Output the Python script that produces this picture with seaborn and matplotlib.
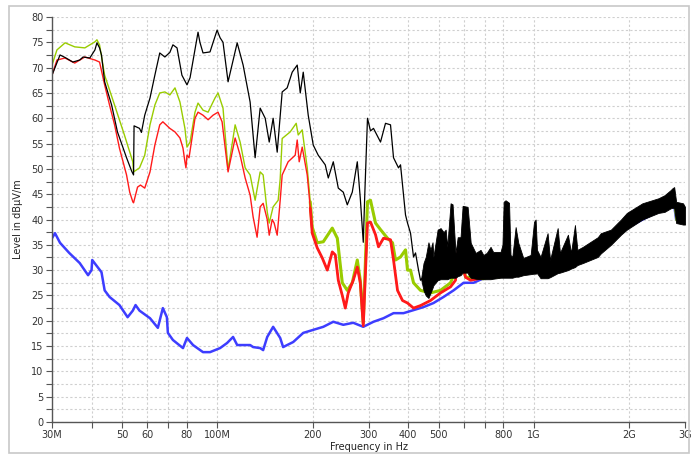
import numpy as np
import seaborn as sns
import matplotlib.pyplot as plt
from matplotlib.patches import Rectangle
from matplotlib.ticker import FixedLocator, MultipleLocator, NullLocator

# peak trace (black), below ~450 MHz
black_f = [30.0, 31.8, 33.0, 34.9, 36.7, 37.6, 39.5, 41.0, 41.6, 42.4, 43.0, 44.0, 46.3, 48.3,
           51.6, 53.6, 54.3, 54.5, 56.7, 57.5, 58.9, 61.2, 63.4, 65.7, 68.2, 70.7, 72.3, 74.5,
           77.2, 80.1, 81.9, 86.8, 88.0, 90.0, 94.7, 99.7, 101.9, 104.1, 108.0, 115.4, 120.5,
           126.8, 131.5, 136.4, 141.5, 145.7, 149.9, 154.4, 160.1, 166.0, 172.2, 178.6, 182.6,
           186.6, 193.5, 200.7, 208.1, 219.0, 223.9, 232.2, 240.8, 249.7, 257.1, 266.6, 276.5,
           282.6, 288.8, 292.0, 297.8, 304.4, 311.1, 327.4, 339.5, 352.1, 359.9, 373.2, 378.7,
           392.7, 398.5, 407.3, 416.3, 422.4, 431.7, 438.0, 442.0]
black_db = [68.5, 72.5, 72.0, 71.1, 71.5, 72.1, 71.9, 73.5, 74.9, 73.9, 72.5, 67.2, 62.6, 57.3,
            52.2, 49.5, 48.8, 58.5, 58.0, 57.2, 60.6, 64.0, 68.5, 72.9, 72.1, 73.0, 74.5, 73.9,
            68.5, 66.6, 68.0, 77.0, 75.0, 72.9, 73.1, 77.4, 75.9, 75.0, 67.2, 74.9, 70.5,
            63.2, 52.2, 62.0, 60.0, 55.3, 60.0, 53.3, 65.2, 66.0, 69.1, 70.5, 65.0,
            69.1, 60.6, 54.7, 52.7, 50.8, 48.2, 51.4, 46.2, 45.4, 42.9, 45.4, 51.4,
            44.2, 35.5, 45.0, 60.0, 57.5, 58.0, 55.3, 59.0, 58.7, 52.2, 50.2, 50.8,
            40.9, 39.3, 37.3, 32.6, 33.4, 30.0, 28.0, 28.3]

# dense band of the peak trace above ~440 MHz (lower / upper envelope)
band_f = [440, 447.7, 455, 464, 471, 478, 481, 496, 507, 518, 526, 532, 545, 553, 565, 574, 586,
          595, 617, 622, 631, 654, 678, 692, 709, 729, 743, 784, 795, 802, 813, 834, 843, 854,
          875, 892, 925, 976, 1000, 1012, 1022, 1049, 1104, 1124, 1188, 1208, 1280, 1309, 1347,
          1371, 1427, 1590, 1626, 1750, 1883, 1965, 2200, 2474, 2585, 2701, 2741, 2773, 2813,
          2957, 3000]
band_lo = [28.2, 26.0, 25.0, 24.5, 25.5, 26.5, 27.0, 28.0, 28.2, 28.2, 28.2, 28.2, 28.5, 28.5,
           28.5, 28.8, 29.0, 29.5, 29.5, 29.0, 28.5, 28.3, 28.2, 28.2, 28.2, 28.2, 28.3, 28.5,
           28.5, 28.5, 28.5, 28.5, 28.5, 28.5, 28.7, 28.7, 29.0, 29.2, 29.3, 29.3, 29.4, 28.4,
           28.4, 28.6, 29.4, 29.5, 30.0, 30.3, 30.6, 31.0, 31.4, 32.6, 33.3, 35.0, 37.0, 38.0,
           40.0, 41.3, 41.5, 42.2, 42.3, 42.3, 39.3, 39.0, 39.0]
band_hi = [28.4, 31.4, 32.6, 35.5, 34.0, 35.5, 32.6, 38.0, 38.3, 37.5, 38.0, 34.6, 43.2, 43.0,
           33.4, 36.5, 36.5, 42.7, 42.5, 40.0, 35.4, 33.4, 34.0, 33.0, 33.4, 34.6, 33.6, 33.6,
           35.0, 43.5, 43.8, 43.3, 33.0, 32.6, 38.5, 35.4, 32.4, 33.0, 39.5, 40.0, 34.0, 32.6,
           37.3, 32.0, 38.3, 33.4, 37.0, 33.4, 38.9, 34.0, 34.6, 36.5, 37.3, 38.0, 40.0, 41.3,
           43.2, 44.2, 44.8, 45.8, 46.2, 46.4, 43.5, 43.2, 42.5]

# quasi-peak trace (yellow-green)
green_f = [30.0, 31.1, 33.0, 35.4, 38.1, 41.0, 41.6, 42.4, 44.0, 47.3, 50.8, 54.0, 54.3, 56.7,
           58.9, 61.2, 63.4, 65.7, 68.2, 70.7, 73.4, 76.1, 78.9, 80.1, 81.9, 84.9, 86.8, 90.0,
           93.4, 98.2, 100.4, 104.1, 108.0, 113.7, 117.9, 122.3, 126.8, 131.5, 136.4, 139.4,
           143.6, 145.7, 149.9, 155.5, 157.8, 160.1, 169.7, 177.3, 179.9, 185.2, 192.1, 196.4,
           199.2, 206.6, 215.9, 230.5, 239.1, 247.9, 257.1, 266.6, 276.5, 282.6, 288.8, 297.8,
           304.4, 315.7, 327.4, 344.5, 357.3, 365.2, 378.7, 392.7, 398.5, 407.3, 416.3, 438.0,
           471.0, 506.6, 545.0, 565.0, 577.7, 586.0, 594.8, 608.0, 654.0, 692.0, 800.0, 900.0,
           1000.0, 1100.0, 1200.0, 1400.0, 1600.0, 2000.0, 2500.0, 2773.0, 2813.0, 3000.0]
green_db = [70.5, 73.5, 74.9, 74.1, 73.9, 75.1, 75.5, 74.5, 68.5, 62.6, 56.7, 51.4, 49.4, 50.2,
            52.7, 58.7, 62.6, 65.0, 65.2, 64.6, 66.0, 63.2, 58.0, 54.3, 55.3, 61.2, 63.0, 61.6,
            61.2, 64.0, 65.0, 62.0, 49.8, 58.7, 55.3, 50.2, 48.8, 43.8, 49.4, 48.8,
            41.5, 39.3, 42.5, 43.8, 48.0, 56.0, 57.3, 59.0, 56.7, 57.7, 50.2, 43.5,
            38.5, 35.4, 35.6, 38.3, 36.3, 27.5, 26.0, 27.5, 32.0, 28.0, 19.5, 43.5,
            43.8, 39.3, 38.0, 36.3, 35.4, 32.0, 32.6, 34.0, 30.0, 30.0, 27.5, 26.0,
            25.5, 26.0, 27.5, 30.0, 33.5, 34.5, 31.4, 28.6, 28.5, 28.3, 28.6, 28.9,
            29.8, 29.2, 30.0, 31.9, 33.9, 38.8, 42.0, 42.8, 39.8, 39.5]

# average trace (red)
red_f = [30.0, 31.1, 33.0, 35.4, 38.1, 41.0, 42.4, 44.0, 45.6, 47.3, 49.0, 51.6, 52.8, 54.0,
         54.3, 55.9, 57.1, 58.9, 61.2, 63.4, 65.7, 67.2, 70.7, 73.4, 76.1, 77.8, 78.9, 79.5,
         80.1, 81.3, 84.9, 86.8, 90.0, 93.4, 96.8, 100.4, 103.4, 108.0, 113.7, 117.9, 122.3,
         126.8, 129.6, 133.4, 136.4, 139.4, 143.6, 145.7, 148.9, 151.0, 154.4, 157.8, 160.1,
         167.2, 176.0, 178.6, 181.2, 185.2, 192.1, 196.4, 199.2, 206.6, 214.3, 222.3, 230.5,
         235.6, 240.8, 247.9, 253.4, 258.9, 268.5, 276.5, 282.6, 288.8, 297.8, 304.4, 315.7,
         322.6, 334.6, 352.1, 359.9, 370.5, 384.2, 398.5, 416.3, 438.0, 471.0, 506.6, 545.0,
         565.0, 577.7, 594.8, 608.0, 630.0, 680.0]
red_db = [68.5, 71.5, 71.9, 70.9, 72.1, 71.5, 71.1, 66.6, 62.6, 58.7, 54.1, 48.8, 45.4, 43.5,
          43.3, 46.4, 46.8, 46.2, 49.4, 54.7, 58.7, 59.3, 58.0, 57.3, 56.1, 54.1, 51.4, 50.2,
          52.7, 52.2, 60.0, 61.2, 60.6, 59.7, 60.6, 61.2, 59.3, 49.4, 56.1, 52.7, 48.2,
          44.8, 40.5, 36.5, 42.5, 43.2, 40.0, 36.9, 40.0, 39.3, 36.9, 43.8, 48.8,
          51.4, 52.7, 55.7, 51.4, 54.3, 48.8, 42.3, 37.3, 34.4, 32.4, 30.0, 33.6,
          33.0, 28.0, 25.0, 22.5, 25.5, 28.0, 30.6, 27.5, 19.0, 39.3, 39.5, 37.0,
          34.6, 36.3, 36.0, 32.0, 26.0, 24.0, 23.5, 22.5, 23.0, 24.0, 25.5, 26.7,
          28.0, 34.6, 30.6, 28.6, 28.0, 28.4]

# noise floor (blue)
blue_f = [30.0, 30.66, 31.8, 34.0, 36.7, 39.0, 40.0, 40.2, 41.8, 43.0, 44.0, 45.6, 49.0, 52.0,
          54.0, 55.1, 56.7, 61.2, 64.8, 67.2, 69.2, 69.7, 72.3, 77.8, 80.1, 83.7, 90.0, 94.7,
          101.9, 107.2, 112.0, 115.4, 126.8, 129.6, 136.4, 139.4, 143.6, 149.9, 157.8, 161.2,
          166.0, 173.5, 186.6, 200.7, 215.9, 232.2, 249.7, 268.5, 288.8, 311.1, 334.6, 359.9,
          387.0, 416.3, 447.7, 481.4, 517.8, 557.1, 599.2, 644.4, 692.9, 800.0, 1000.0, 1500.0,
          2000.0, 2500.0, 2773.0, 2813.0, 3000.0]
blue_db = [36.3, 37.3, 35.4, 33.4, 31.4, 29.0, 30.0, 32.0, 30.6, 29.6, 26.0, 24.7, 23.1, 20.7,
           22.0, 23.1, 22.0, 20.5, 18.6, 22.5, 20.7, 17.6, 16.2, 14.6, 16.6, 15.2, 13.8, 13.8,
           14.6, 15.6, 16.8, 15.2, 15.2, 14.8, 14.6, 14.2, 16.8, 18.8, 16.6, 14.8,
           15.2, 15.8, 17.6, 18.2, 18.8, 19.8, 19.2, 19.6, 18.8, 19.8, 20.5, 21.5,
           21.5, 22.1, 22.7, 23.5, 24.7, 26.0, 27.5, 27.5, 28.4, 29.0, 29.8, 32.8,
           38.6, 41.8, 42.8, 40.0, 39.8]

xtick_vals = [30, 40, 50, 60, 70, 80, 100, 200, 300, 400, 500, 600, 700, 800, 1000, 2000, 3000]
xtick_labels = ["30M", "", "50", "60", "", "80", "100M", "200", "300", "400", "500", "", "",
                "800", "1G", "2G", "3G"]

sns.set_style("white")
plt.rcParams['font.family'] = ['DejaVu Sans']

fig = plt.figure(figsize=(6.91, 4.59), dpi=100)
ax = fig.add_axes([52 / 691, 1 - 422 / 459, 633 / 691, 405 / 459])

gf = np.array(green_f)
gd = np.array(green_db)
rf = np.array(red_f)
rd = np.array(red_db)

sns.lineplot(x=blue_f, y=blue_db, ax=ax, color="#3d3dff", lw=1.8, estimator=None, sort=False)
sns.lineplot(x=green_f, y=green_db, ax=ax, color="#99cc00", lw=1.0, estimator=None, sort=False)
m = (gf >= 195) & (gf <= 700)
sns.lineplot(x=gf[m], y=gd[m], ax=ax, color="#99cc00", lw=2.2, estimator=None, sort=False)
sns.lineplot(x=red_f, y=red_db, ax=ax, color="#ff1a1a", lw=1.0, estimator=None, sort=False)
m = rf >= 195
sns.lineplot(x=rf[m], y=rd[m], ax=ax, color="#ff1a1a", lw=2.0, estimator=None, sort=False)
sns.lineplot(x=black_f, y=black_db, ax=ax, color="black", lw=0.9, estimator=None, sort=False)
# the dense band sits on top of the coloured traces
ax.fill_between(band_f, band_lo, band_hi, color="black", lw=0.6, zorder=3)

ax.set_xscale("log")
ax.set_xlim(30, 3000)
ax.set_ylim(0, 80)
ax.xaxis.set_major_locator(FixedLocator(xtick_vals))
ax.xaxis.set_minor_locator(NullLocator())
ax.set_xticklabels(xtick_labels)
ax.yaxis.set_major_locator(MultipleLocator(5))
ax.yaxis.set_minor_locator(MultipleLocator(2.5))

ax.grid(True, which="major", axis="x", ls=(0, (2, 2)), color="#cfcfcf", lw=0.8)
ax.grid(True, which="both", axis="y", ls=(0, (2, 2)), color="#cfcfcf", lw=0.8)
ax.set_axisbelow(True)

for s in ["top", "right"]:
    ax.spines[s].set_visible(False)
for s in ["left", "bottom"]:
    ax.spines[s].set_color("#555555")
    ax.spines[s].set_linewidth(1.0)

ax.tick_params(axis="both", which="both", direction="out", length=4, width=0.8,
               color="#555555", labelsize=7, labelcolor="#333333", pad=2,
               left=True, bottom=True)
ax.tick_params(axis="y", which="minor", length=4)

ax.set_xlabel("Frequency in Hz", fontsize=7, color="#222222", labelpad=1)
ax.set_ylabel("Level in dBµV/m", fontsize=7, color="#222222", labelpad=6)

fig.patches.append(Rectangle((9 / 691, 1 - 453 / 459), 680 / 691, 447 / 459,
                             transform=fig.transFigure, fill=False, ec="#c8c8c8", lw=1.2))

fig.savefig("out.png", dpi=100)
